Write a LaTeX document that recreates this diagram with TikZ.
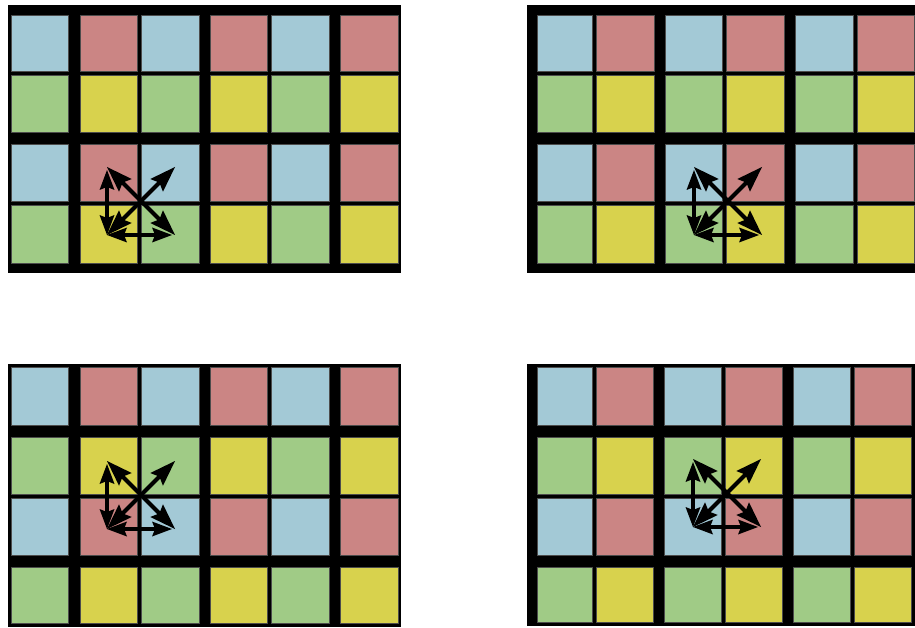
\documentclass[tikz,border=0pt]{standalone}
\usetikzlibrary{calc}
\definecolor{cellcol3}{HTML}{A3C9D6}
\definecolor{cellcol2}{HTML}{CB8584}
\definecolor{cellcol1}{HTML}{A0CB86}
\definecolor{cellcol0}{HTML}{D8D24D}
\tikzset{
  cell/.style={draw=black!70,line width=0.6pt},
  frame/.style={fill=black},
  shaft/.style={line width=4pt,shorten >=9pt,shorten <=9pt},
  headfill/.style={fill=black}
}
\newcommand\gridpanel[2]{%
  \foreach \ya/\yb [count=\j] in {#2}{%
    \foreach \xa/\xb [count=\i] in {#1}{%
      \pgfmathtruncatemacro\k{mod(\i,2)+2*mod(\j,2)}%
      \filldraw[cell,fill=cellcol\k] (\xa,\ya) rectangle (\xb,\yb);
    }%
  }%
}
% arrow head with tip at #1, pointing away from #2; length #3, half width #4
\newcommand\headat[4]{%
  \fill[headfill] (#1) -- ($($(#1)!#3!(#2)$)!#4!90:(#1)$)
     -- ($(#1)!0.85*#3!(#2)$) -- ($($(#1)!#3!(#2)$)!#4!-90:(#1)$) -- cycle;
}
\newcommand\dblarrow[4]{%
  \draw[shaft] (#1) -- (#2);
  \headat{#1}{#2}{#3}{#4}\headat{#2}{#1}{#3}{#4}%
}
\newcommand\arrowset[3]{%
  \coordinate (#1o) at (#2-34,#3+34);
  \coordinate (#1t) at (#2-34,#3-31);
  \coordinate (#1r) at (#2+31,#3+34);
  \coordinate (#1ur) at (#2+34,#3-34);
  \coordinate (#1ul) at (#2-34,#3-34);
  \coordinate (#1lr) at (#2+34,#3+34);
  \dblarrow{#1o}{#1t}{20pt}{7.5pt}
  \dblarrow{#1o}{#1r}{20pt}{7.5pt}
  \dblarrow{#1o}{#1ur}{26pt}{9pt}
  \dblarrow{#1ul}{#1lr}{26pt}{9pt}
}
\begin{document}
\begin{tikzpicture}[x=1pt,y=-1pt]
\useasboundingbox (0,0) rectangle (915,628);
\clip (0,0) rectangle (915,628);
% panel 1
\fill[frame] (8,5) rectangle (401,273);
\gridpanel{11/68,80/137,141/199,210/267,271/329,340/398}{15/71,75/132,144/201,205/263}
\arrowset{a}{141}{201}
% panel 2
\fill[frame] (527,5) rectangle (925,273);
\gridpanel{537/592,596/654,665/722,726/784,795/853,857/914}{15/71,75/132,144/201,205/263}
\arrowset{b}{728}{201}
% panel 3
\fill[frame] (8,364) rectangle (401,627);
\gridpanel{11/68,80/137,141/199,210/267,271/329,340/398}{367/425,437/494,498/555,567/623}
\arrowset{c}{141}{495}
% panel 4
\fill[frame] (527,364) rectangle (925,626);
\gridpanel{537/592,596/653,664/721,725/782,793/850,854/911}{367/425,437/494,498/555,567/622}
\arrowset{d}{727}{493}
\end{tikzpicture}
\end{document}
